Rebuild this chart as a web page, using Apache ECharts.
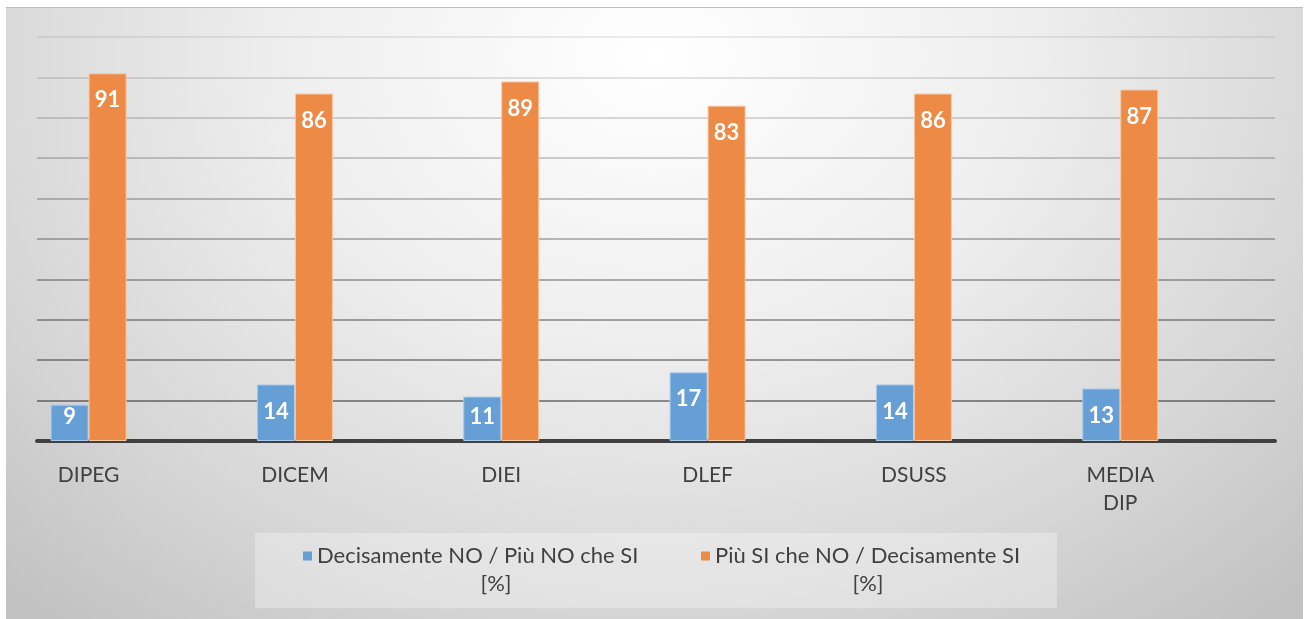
<!DOCTYPE html>
<html>
<head>
<meta charset="utf-8">
<script src="https://cdn.jsdelivr.net/npm/echarts@6/dist/echarts.min.js"></script>
<style>
  html, body { margin: 0; padding: 0; background: #fff; }
  #bg {
    position: absolute; left: 6px; top: 7px; width: 1297px; height: 612px;
    border-top: 1px solid #bdbdbd;
    background: radial-gradient(ellipse 72% 120% at 50% 8%, #ffffff 0%, #eeeeee 40%, #d6d6d6 75%, #c2c2c2 100%);
  }
  #main { position: absolute; left: 0; top: 0; width: 1306px; height: 619px; }
</style>
</head>
<body>
<div id="bg"></div>
<div id="main"></div>
<script>
var categorie = ['DIPEG', 'DICEM', 'DIEI', 'DLEF', 'DSUSS', 'MEDIA\nDIP'];
var serieNo = [9, 14, 11, 17, 14, 13];
var serieSi = [91, 86, 89, 83, 86, 87];
var nomeNo = 'Decisamente NO / Più NO che SI\n[%]';
var nomeSi = 'Più SI che NO / Decisamente SI\n[%]';

var font = 'Lato, "Open Sans", sans-serif';
var chart = echarts.init(document.getElementById('main'));

// label inside near the top, but kept above the axis for short bars
function puntiBar(valori) {
  return valori.map(function (v, i) {
    var item = { value: [i, v] };
    if (v < 12.5) {
      item.label = { position: 'insideBottom', distance: 13 };
    }
    return item;
  });
}

var etichetta = {
  show: true,
  position: 'insideTop',
  distance: 16,
  color: '#ffffff',
  fontFamily: font,
  fontWeight: 'bold',
  fontSize: 22,
  formatter: function (p) { return p.value[1]; }
};

var testoLegenda = { fontFamily: font, fontSize: 22, color: '#404040', lineHeight: 28 };

var option = {
  animation: false,
  grid: { left: 37, right: 31, top: 37, bottom: 178 },
  legend: {
    left: 303,
    top: 545,
    padding: 0,
    itemGap: 26,
    itemWidth: 9,
    itemHeight: 37,
    symbolKeepAspect: false,
    // square at the top, an invisible point keeps the box tall so it lines up with the first row
    icon: 'path://M0,0H9V9H0Z M0,37H0.01V37.01H0Z',
    itemStyle: { borderWidth: 0 },
    formatter: function (name) {
      var righe = name.split('\n');
      var s = name === nomeNo ? 'n' : 's';
      return '{t|' + righe[0] + '}\n{' + s + '|' + righe[1] + '}';
    },
    textStyle: {
      rich: {
        t: testoLegenda,
        n: Object.assign({ width: 358, align: 'center' }, testoLegenda),
        s: Object.assign({ width: 306, align: 'center' }, testoLegenda)
      }
    },
    data: [nomeNo, nomeSi]
  },
  graphic: [{
    type: 'rect',
    z: -1,
    shape: { x: 255, y: 533, width: 802, height: 75 },
    style: { fill: 'rgba(255,255,255,0.3)' }
  }],
  xAxis: {
    type: 'value',
    min: -0.25,
    max: 5.75,
    splitLine: { show: false },
    axisTick: { show: false },
    axisLine: { show: true, lineStyle: { color: '#404040', width: 4 } },
    axisLabel: {
      customValues: [0, 1, 2, 3, 4, 5],
      formatter: function (v) { return categorie[v]; },
      fontFamily: font,
      fontSize: 21,
      color: '#404040',
      lineHeight: 28,
      margin: 20
    }
  },
  yAxis: {
    type: 'value',
    min: 0,
    max: 100,
    interval: 10,
    axisLabel: { show: false },
    axisLine: { show: false },
    axisTick: { show: false },
    splitLine: {
      lineStyle: {
        width: 2,
        color: new echarts.graphic.LinearGradient(0, 37, 0, 441, [
          { offset: 0, color: 'rgba(0,0,0,0.07)' },
          { offset: 1, color: 'rgba(0,0,0,0.45)' }
        ], true)
      }
    }
  },
  series: [
    {
      name: nomeNo,
      type: 'bar',
      barWidth: 38,
      barGap: '0%',
      data: puntiBar(serieNo),
      itemStyle: { color: '#659fd6', borderColor: '#a9caec', borderWidth: 1 },
      label: etichetta
    },
    {
      name: nomeSi,
      type: 'bar',
      barWidth: 38,
      barGap: '0%',
      data: puntiBar(serieSi),
      itemStyle: { color: '#ec8a46', borderColor: '#f7c7a2', borderWidth: 1 },
      label: etichetta
    }
  ]
};

chart.setOption(option);
</script>
</body>
</html>
